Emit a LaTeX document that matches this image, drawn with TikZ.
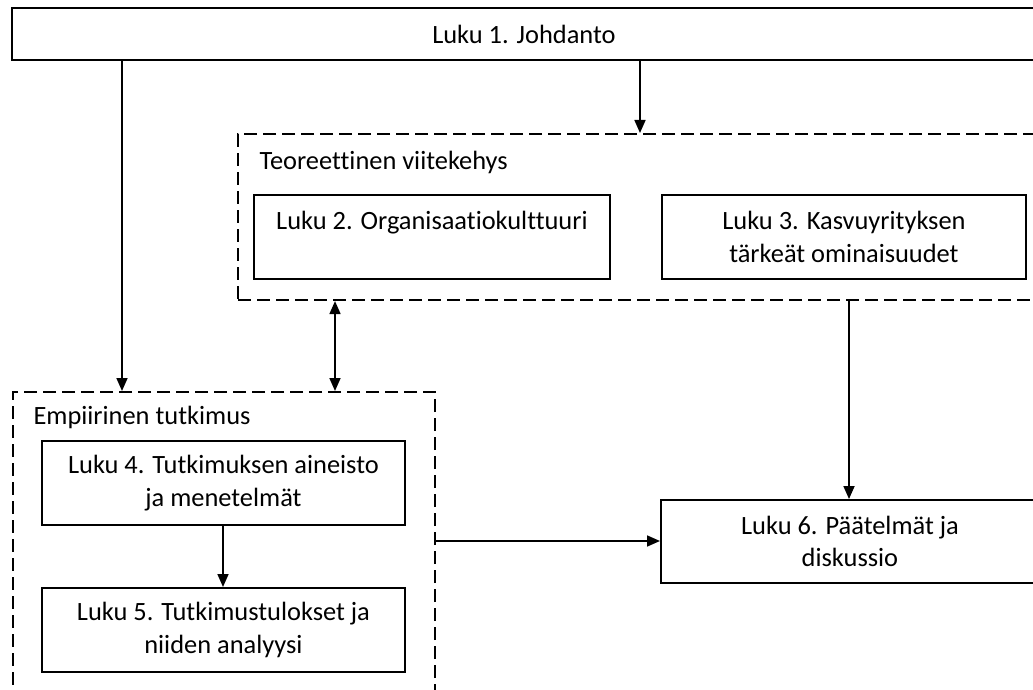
\documentclass[tikz,border=0pt]{standalone}
\usepackage{fontspec}
\setmainfont[Ligatures=NoCommon]{Carlito}
\usetikzlibrary{arrows.meta}
\begin{document}
\begin{tikzpicture}[x=1pt,y=-1pt,
  txt/.style={font=\fontsize{26.4}{32.5}\selectfont, text=black},
  chap/.style={txt, draw, line width=1.9pt, inner sep=0pt, align=center, anchor=north west},
  group/.style={draw, line width=2.1pt, dash pattern=on 13pt off 6pt, inner sep=0pt, anchor=north west},
  arr/.style={line width=1.7pt, -{Triangle[length=13pt,width=11pt]}},
  darr/.style={line width=1.7pt, {Triangle[length=13pt,width=11pt]}-{Triangle[length=13pt,width=11pt]}}]
\useasboundingbox (0,0) rectangle (1033,690);
\clip (0,0) rectangle (1033,690);
\fill[white] (0,0) rectangle (1033,690);
\node[chap, minimum width=1024pt, minimum height=52pt] (johd) at (11,7) {Luku 1. Johdanto};
\node[group, minimum width=810pt, minimum height=166pt] (teor) at (237,133) {};
\node[txt, anchor=west] (teorlbl) at (256,162) {Teoreettinen viitekehys};
\node[chap, minimum width=356pt, minimum height=84pt] (l2) at (253,194) {Luku 2. Organisaatiokulttuuri\\\mbox{}};
\node[chap, minimum width=364pt, minimum height=84pt] (l3) at (661,194) {Luku 3. Kasvuyrityksen\\tärkeät ominaisuudet};
\node[group, minimum width=422pt, minimum height=320pt] (emp) at (12,391) {};
\node[txt, anchor=west] (emplbl) at (30,417) {Empiirinen tutkimus};
\node[chap, minimum width=363pt, minimum height=84pt] (l4) at (41,440) {Luku 4. Tutkimuksen aineisto\\ja menetelmät};
\node[chap, minimum width=363pt, minimum height=84pt] (l5) at (41,587) {Luku 5. Tutkimustulokset ja\\niiden analyysi};
\node[chap, minimum width=378pt, minimum height=83pt] (l6) at (660,499) {Luku 6. Päätelmät ja\\diskussio};
\coordinate (xa) at (122,0);
\coordinate (xb) at (640,0);
\coordinate (xc) at (335,0);
\coordinate (xd) at (223,0);
\coordinate (xe) at (849,0);
\coordinate (ya) at (0,541);
\draw[arr] (xa |- johd.south) -- (xa |- emp.north);
\draw[arr] (xb |- johd.south) -- (xb |- teor.north);
\draw[darr] (xc |- teor.south) -- (xc |- emp.north);
\draw[arr] (xd |- l4.south) -- (xd |- l5.north);
\draw[arr] (xe |- teor.south) -- (xe |- l6.north);
\draw[arr] (emp.east |- ya) -- (l6.west |- ya);
\end{tikzpicture}
\end{document}
